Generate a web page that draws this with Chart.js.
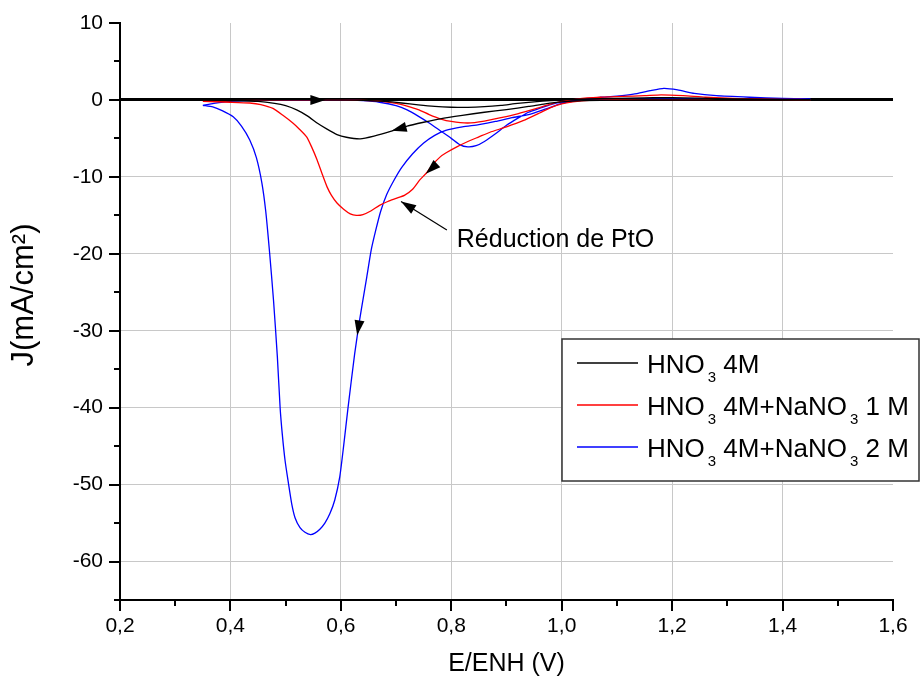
<!DOCTYPE html>
<html><head><meta charset="utf-8">
<script src="https://cdn.jsdelivr.net/npm/chart.js@4.4.1/dist/chart.umd.min.js"></script>
<style>html,body{margin:0;padding:0;background:#fff;}canvas{display:block;}</style>
</head><body>
<canvas id="c" width="921" height="681"></canvas>
<script>
// ---------- data ----------
const seriesLabels = ['HNO₃ 4M', 'HNO₃ 4M+NaNO₃ 1 M', 'HNO₃ 4M+NaNO₃ 2 M'];
const seriesColors = ['#000000', '#ff0000', '#0000ff'];

const blackE = [0.35,0.40,0.45,0.50,0.55,0.60,0.64,0.68,0.71,0.74,0.77,0.80,0.83,0.86,0.89,0.92,0.95,0.98,1.01,1.05,1.10,1.15,1.18,1.22,1.28,1.35,1.45,
  1.40,1.30,1.20,1.10,1.04,1.00,0.97,0.94,0.90,0.86,0.82,0.78,0.75,0.72,0.69,0.66,0.635,0.61,0.593,0.575,0.557,0.54,0.52,0.50,0.48,0.45,0.40,0.35];
const blackJ = [0,0,0.02,0.03,0.03,0,-0.05,-0.2,-0.4,-0.65,-0.85,-0.95,-0.97,-0.88,-0.7,-0.45,-0.25,-0.08,0.05,0.12,0.2,0.28,0.3,0.27,0.18,0.1,0.05,
  0.02,0,0,-0.02,-0.1,-0.25,-0.5,-0.85,-1.25,-1.6,-2.0,-2.45,-2.9,-3.4,-4.1,-4.7,-5.05,-4.85,-4.5,-3.8,-3.0,-2.1,-1.3,-0.75,-0.45,-0.2,-0.08,0];

const redE = [0.35,0.40,0.45,0.50,0.55,0.60,0.64,0.67,0.70,0.72,0.74,0.76,0.78,0.80,0.83,0.86,0.89,0.92,0.95,0.98,1.00,1.03,1.07,1.11,1.15,1.18,1.22,1.26,1.32,1.40,1.45,
  1.40,1.30,1.20,1.10,1.05,1.02,1.00,0.98,0.96,0.93,0.90,0.87,0.85,0.83,0.81,0.79,0.78,0.765,0.755,0.743,0.73,0.715,0.70,0.685,0.67,0.655,0.64,0.628,0.617,0.605,0.593,0.583,0.575,0.566,0.557,0.547,0.538,0.525,0.513,0.495,0.477,0.455,0.435,0.40,0.35];
const redJ = [-0.2,-0.1,-0.03,0,0,0,-0.05,-0.15,-0.45,-0.8,-1.25,-1.9,-2.45,-2.8,-3.0,-2.75,-2.3,-1.8,-1.2,-0.55,-0.2,0.15,0.35,0.45,0.55,0.65,0.55,0.35,0.18,0.08,0.05,
  0.05,0.05,0.05,0.03,-0.05,-0.25,-0.5,-1.0,-1.7,-2.7,-3.5,-4.2,-4.8,-5.4,-6.1,-6.9,-7.4,-8.5,-9.5,-10.4,-11.6,-12.4,-12.8,-13.2,-13.7,-14.4,-14.9,-15.0,-14.8,-14.2,-13.4,-12.4,-11.3,-9.6,-7.8,-6.1,-4.8,-3.8,-3.0,-2.0,-1.1,-0.6,-0.4,-0.3,-0.2];

const blueE = [0.35,0.37,0.40,0.45,0.50,0.55,0.60,0.64,0.67,0.70,0.72,0.74,0.76,0.78,0.80,0.815,0.83,0.845,0.86,0.88,0.90,0.92,0.94,0.96,0.98,1.00,1.03,1.07,1.10,1.13,1.16,1.185,1.21,1.24,1.28,1.34,1.40,1.45,
  1.40,1.30,1.20,1.10,1.05,1.02,1.00,0.97,0.94,0.91,0.88,0.85,0.82,0.79,0.77,0.75,0.73,0.71,0.695,0.683,0.672,0.663,0.655,0.647,0.640,0.634,0.625,0.613,0.605,0.598,0.589,0.58,0.571,0.562,0.553,0.545,0.535,0.526,0.517,0.511,0.505,0.499,0.494,0.490,0.485,0.478,0.471,0.464,0.457,0.447,0.435,0.42,0.405,0.385,0.368,0.35];
const blueJ = [-0.7,-0.45,-0.2,-0.05,0,0,0,-0.1,-0.3,-0.75,-1.3,-2.1,-3.0,-4.0,-5.0,-5.8,-6.1,-5.95,-5.4,-4.4,-3.3,-2.4,-1.6,-1.1,-0.6,-0.25,0.1,0.35,0.5,0.75,1.2,1.5,1.3,0.85,0.55,0.35,0.2,0.15,
  0.15,0.12,0.12,0.08,0,-0.2,-0.45,-1.2,-1.9,-2.3,-2.8,-3.2,-3.5,-3.95,-4.6,-5.6,-7.0,-8.8,-10.6,-12.3,-14.5,-17.0,-19.5,-23.0,-26.0,-28.6,-33.0,-40.0,-45.0,-49.0,-52.0,-53.8,-55.0,-55.8,-56.3,-56.5,-56.2,-55.6,-54.3,-52.5,-49.8,-46.9,-43.5,-40.0,-33.4,-26.0,-19.9,-14.5,-10.8,-7.5,-5.2,-3.4,-2.2,-1.4,-0.9,-0.7];

const xTickValues = [0.2,0.4,0.6,0.8,1.0,1.2,1.4,1.6];
const xTickLabels = ['0,2','0,4','0,6','0,8','1,0','1,2','1,4','1,6'];
const xMinorTicks = [0.3,0.5,0.7,0.9,1.1,1.3,1.5];
const yTickValues = [-60,-50,-40,-30,-20,-10,0,10];
const yTickLabels = ['-60','-50','-40','-30','-20','-10','0','10'];
const yMinorTicks = [-65,-55,-45,-35,-25,-15,-5,5];
const xTitle = 'E/ENH (V)';
const yTitle = 'J(mA/cm²)';
const annotationText = 'Réduction de PtO';
const annotationAnchor = [0.81, -19.1];
const annotationArrow = [0.792, -16.9, 0.709, -13.2];
// direction arrows on the curves: [fromE, fromJ, toE, toJ]
const arrowMarks = [[0.54,0,0.572,0],[0.719,-3.5,0.692,-4.0],[0.775,-8.2,0.754,-9.6],[0.634,-28.6,0.6296,-30.6]];

// ---------- chart ----------
const FONT = 'Liberation Sans, Arial, Helvetica, sans-serif';
const mk = (E, J) => E.map((e, i) => ({x: e, y: J[i]}));
const seriesData = [mk(blackE, blackJ), mk(redE, redJ), mk(blueE, blueJ)];

function arrowHead(ctx, x1, y1, x2, y2, len, w) {
  const a = Math.atan2(y2 - y1, x2 - x1);
  const c = Math.cos(a), s = Math.sin(a);
  ctx.beginPath();
  ctx.moveTo(x2, y2);
  ctx.lineTo(x2 - len * c + (w / 2) * s, y2 - len * s - (w / 2) * c);
  ctx.lineTo(x2 - len * c - (w / 2) * s, y2 - len * s + (w / 2) * c);
  ctx.closePath();
  ctx.fill();
}

const decor = {
  id: 'decor',
  afterDatasetsDraw(chart) {
    const {ctx, scales: {x, y}} = chart;
    ctx.save();
    ctx.fillStyle = '#000';
    arrowMarks.forEach(m => {
      arrowHead(ctx, x.getPixelForValue(m[0]), y.getPixelForValue(m[1]), x.getPixelForValue(m[2]), y.getPixelForValue(m[3]), 15, 10);
    });
    const ax1 = x.getPixelForValue(annotationArrow[0]), ay1 = y.getPixelForValue(annotationArrow[1]);
    const ax2 = x.getPixelForValue(annotationArrow[2]), ay2 = y.getPixelForValue(annotationArrow[3]);
    ctx.strokeStyle = '#000'; ctx.lineWidth = 1.2;
    ctx.beginPath(); ctx.moveTo(ax1, ay1); ctx.lineTo(ax2, ay2); ctx.stroke();
    arrowHead(ctx, ax1, ay1, ax2, ay2, 15, 10);
    ctx.font = '25px ' + FONT;
    ctx.textBaseline = 'alphabetic'; ctx.textAlign = 'left';
    ctx.fillText(annotationText, x.getPixelForValue(annotationAnchor[0]), y.getPixelForValue(annotationAnchor[1]));
    ctx.restore();
  },
  afterDraw(chart) {
    const {ctx, chartArea: ca, scales: {x, y}} = chart;
    ctx.save();
    ctx.strokeStyle = '#000'; ctx.lineWidth = 2;
    ctx.beginPath();
    yTickValues.forEach(v => { const p = Math.round(y.getPixelForValue(v)); ctx.moveTo(ca.left - 11, p); ctx.lineTo(ca.left, p); });
    yMinorTicks.forEach(v => { const p = Math.round(y.getPixelForValue(v)); ctx.moveTo(ca.left - 6, p); ctx.lineTo(ca.left, p); });
    xTickValues.forEach(v => { const p = Math.round(x.getPixelForValue(v)); ctx.moveTo(p, ca.bottom); ctx.lineTo(p, ca.bottom + 11); });
    xMinorTicks.forEach(v => { const p = Math.round(x.getPixelForValue(v)); ctx.moveTo(p, ca.bottom); ctx.lineTo(p, ca.bottom + 6); });
    ctx.stroke();

    // y axis title
    ctx.save();
    ctx.translate(24, 295);
    ctx.rotate(-Math.PI / 2);
    ctx.font = '31px ' + FONT;
    ctx.fillStyle = '#000';
    ctx.textAlign = 'center'; ctx.textBaseline = 'middle';
    ctx.fillText(yTitle, 0, 0);
    ctx.restore();

    // legend
    const bx = 562, by = 339, bw = 357, bh = 142;
    ctx.fillStyle = '#fff';
    ctx.fillRect(bx, by, bw, bh);
    ctx.strokeStyle = '#333'; ctx.lineWidth = 1.5;
    ctx.strokeRect(bx, by, bw, bh);
    const rowY = [363, 405, 447];
    seriesLabels.forEach((lab, i) => {
      const ly = rowY[i];
      ctx.strokeStyle = seriesColors[i]; ctx.lineWidth = 1.3;
      ctx.beginPath(); ctx.moveTo(577, ly); ctx.lineTo(638, ly); ctx.stroke();
      let tx = 647;
      ctx.fillStyle = '#000'; ctx.textBaseline = 'alphabetic'; ctx.textAlign = 'left';
      const parts = lab.split('₃');
      parts.forEach((p, k) => {
        ctx.font = '26px ' + FONT;
        ctx.fillText(p, tx, ly + 10);
        tx += ctx.measureText(p).width;
        if (k < parts.length - 1) {
          ctx.font = '15px ' + FONT;
          ctx.fillText('3', tx + 3, ly + 19);
          tx += ctx.measureText('3').width + 3;
        }
      });
    });
    ctx.restore();
  }
};

new Chart(document.getElementById('c'), {
  type: 'scatter',
  data: {
    datasets: seriesData.map((d, i) => ({
      label: seriesLabels[i], data: d, showLine: true,
      borderColor: seriesColors[i], backgroundColor: seriesColors[i],
      borderWidth: 1.3, pointRadius: 0, tension: 0.2, fill: false
    }))
  },
  options: {
    responsive: false, animation: false,
    layout: {padding: {top: 23, right: 28, left: 0, bottom: 0}},
    plugins: {legend: {display: false}, tooltip: {enabled: false}},
    scales: {
      x: {
        type: 'linear', min: 0.2, max: 1.6,
        afterBuildTicks: s => { s.ticks = xTickValues.map(v => ({value: v})); },
        afterFit: s => { s.height = 81; s.paddingLeft = 0; s.paddingRight = 0; },
        ticks: {callback: (v, i) => xTickLabels[i], font: {family: FONT, size: 21}, color: '#000', padding: 14, maxRotation: 0, autoSkip: false},
        grid: {drawTicks: false, lineWidth: 1,
          color: c => (c.tick && (Math.abs(c.tick.value - 0.2) < 1e-6 || Math.abs(c.tick.value - 1.6) < 1e-6)) ? 'rgba(0,0,0,0)' : '#c8c8c8'},
        border: {display: true, color: '#000', width: 2},
        title: {display: true, text: xTitle, color: '#000', font: {family: FONT, size: 25}, padding: {top: 0, bottom: 2}}
      },
      y: {
        type: 'linear', min: -65, max: 10,
        afterBuildTicks: s => { s.ticks = yTickValues.map(v => ({value: v})); },
        afterFit: s => { s.width = 120; s.paddingTop = 0; s.paddingBottom = 0; },
        ticks: {callback: (v, i) => yTickLabels[i], font: {family: FONT, size: 21}, color: '#000', padding: 17, autoSkip: false},
        grid: {drawTicks: false,
          color: c => !c.tick ? '#c8c8c8' : (c.tick.value === 0 ? '#000' : (c.tick.value === 10 ? 'rgba(0,0,0,0)' : '#c8c8c8')),
          lineWidth: c => (c.tick && c.tick.value === 0) ? 3 : 1},
        border: {display: true, color: '#000', width: 2},
        title: {display: false}
      }
    }
  },
  plugins: [decor]
});
</script>
</body></html>
